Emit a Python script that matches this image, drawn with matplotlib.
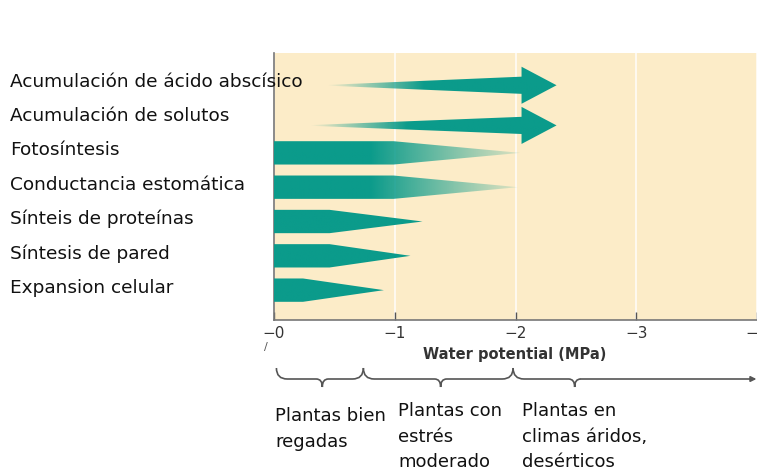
import numpy as np
import matplotlib.pyplot as plt
import matplotlib.transforms as mtransforms
from matplotlib.patches import Polygon, PathPatch
from matplotlib.path import Path

# rows, top to bottom
labels = ['Acumulación de ácido abscísico', 'Acumulación de solutos', 'Fotosíntesis',
          'Conductancia estomática', 'Sínteis de proteínas', 'Síntesis de pared',
          'Expansion celular']
kinds = ['arrow', 'arrow', 'fade', 'fade', 'taper', 'taper', 'taper']
# water potential (MPa) where each shape starts, stops being full width, and ends
starts = [-0.44, -0.30, 0.0, 0.0, 0.0, 0.0, 0.0]
solid_ends = [-2.05, -2.05, -0.99, -0.99, -0.46, -0.46, -0.24]
tips = [-2.34, -2.34, -2.04, -2.02, -1.23, -1.13, -0.91]

ticks = [0, -1, -2, -3, -4]
tick_labels = ['−0', '−1', '−2', '−3', '−4']

# zones under the axis (MPa)
zone_bounds = [-0.02, -0.74, -1.98]
zone_tips = [-0.40, -1.38, -2.49]
zone_text_x = [-0.01, -1.03, -2.05]
zones = ['Plantas bien\nregadas', 'Plantas con\nestrés\nmoderado', 'Plantas en\nclimas áridos,\ndesérticos']

teal = np.array([11, 155, 139]) / 255
beige = '#fcecc8'

W, H = 757, 472
fig = plt.figure(figsize=(W / 100, H / 100), dpi=100)
ax = fig.add_axes([274 / W, (H - 320) / H, (W - 274) / W, (320 - 53) / H])
ax.set_facecolor(beige)

# the arrow rows sit a little off the label rows
row_shift = [0.03, 0.2, 0, 0, 0, 0, 0]

half = 0.34
for i, kind in enumerate(kinds):
    y = i + row_shift[i]
    s, e, t = starts[i], solid_ends[i], tips[i]
    if kind == 'arrow':
        verts = [(s, y - 0.01), (e, y - 0.25), (e, y - 0.54), (t, y),
                 (e, y + 0.54), (e, y + 0.25), (s, y + 0.01)]
        xp, ap = [-s, -s + 0.8, -t], [0.0, 1.0, 1.0]
    else:
        verts = [(s, y - half), (e, y - half), (t, y), (e, y + half), (s, y + half)]
        if kind == 'fade':
            xp, ap = [0.0, 0.8, -t], [1.0, 1.0, 0.12]
        else:
            xp, ap = [0.0, -t], [1.0, 1.0]
    patch = Polygon(verts, closed=True, facecolor='none', edgecolor='none')
    ax.add_patch(patch)
    xs = np.linspace(-s, -t, 300)
    img = np.zeros((1, 300, 4))
    img[..., :3] = teal
    img[0, :, 3] = np.interp(xs, xp, ap)
    im = ax.imshow(img, extent=[s, t, y + 0.6, y - 0.6], aspect='auto',
                   interpolation='bilinear', zorder=3)
    im.set_clip_path(patch)

ax.set_xlim(0, -4)
ax.set_ylim(6.87, -0.91)
ax.set_yticks([])
ax.set_xticks(ticks)
ax.set_xticklabels(tick_labels, fontsize=11, color='#333333')
ax.tick_params(axis='x', direction='in', length=6, width=1, color='#555555', pad=4)
ax.grid(axis='x', color='white', linewidth=1.3, alpha=0.8)
ax.set_axisbelow(True)
for side in ['top', 'right']:
    ax.spines[side].set_visible(False)
for side in ['left', 'bottom']:
    ax.spines[side].set_color('#777777')
    ax.spines[side].set_linewidth(1.2)

# row labels on the left
lab_tr = mtransforms.blended_transform_factory(fig.transFigure, ax.transData)
for i, lab in enumerate(labels):
    ax.text(10 / W, i - 0.07, lab, transform=lab_tr, ha='left', va='center',
            fontsize=13.3, color='#111111', clip_on=False)

fig.text(515 / W, 1 - 354 / H, 'Water potential (MPa)', ha='center', va='center',
         fontsize=10.5, fontweight='bold', color='#333333')
fig.text(266 / W, 1 - 347 / H, '/', ha='center', va='center', fontsize=8, color='#555555')

# braces below the axis (x in MPa, y in pixels)
ov = fig.add_axes([0, 0, 1, 1])
ov.set_xlim(0, W)
ov.set_ylim(H, 0)
ov.axis('off')
tr = mtransforms.blended_transform_factory(ax.transData, ov.transData)
yt, ym, yb, r, rt = 368, 379, 387, 0.09, 0.05


def brace(x0, x1, xm):
    verts = [(x0, yt), (x0, ym), (x0 - r, ym), (xm + rt, ym), (xm, ym), (xm, yb),
             (xm, ym), (xm - rt, ym)]
    codes = [Path.MOVETO, Path.CURVE3, Path.CURVE3, Path.LINETO, Path.CURVE3, Path.CURVE3,
             Path.CURVE3, Path.CURVE3]
    if x1 is not None:
        verts += [(x1 + r, ym), (x1, ym), (x1, yt)]
        codes += [Path.LINETO, Path.CURVE3, Path.CURVE3]
    ov.add_patch(PathPatch(Path(verts, codes), transform=tr, facecolor='none',
                           edgecolor='#555555', linewidth=1.2, clip_on=False))


brace(zone_bounds[0], zone_bounds[1], zone_tips[0])
brace(zone_bounds[1], zone_bounds[2], zone_tips[1])
brace(zone_bounds[2], None, zone_tips[2])
ov.annotate('', xy=(-3.995, ym), xytext=(zone_tips[2] - rt, ym), xycoords=tr, textcoords=tr,
            arrowprops=dict(arrowstyle='-|>', color='#555555', lw=1.2, mutation_scale=8,
                            shrinkA=0, shrinkB=0))

for zx, ztop, txt in zip(zone_text_x, [407, 402, 402], zones):
    ov.text(zx, ztop, txt, transform=tr, ha='left', va='top', fontsize=13,
            color='#111111', linespacing=1.55)

fig.savefig('out.png', dpi=100)
